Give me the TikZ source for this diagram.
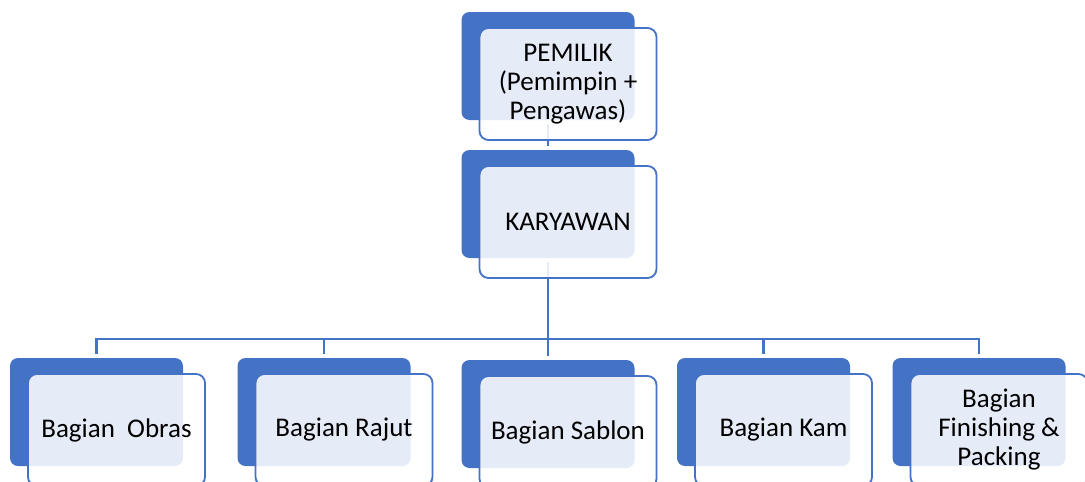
\documentclass[tikz,border=0pt]{standalone}
\usepackage{xcolor}
\usepackage{fontspec}
\setmainfont{Carlito}
\usepackage{tikz}
\usetikzlibrary{positioning}
\definecolor{orgblue}{HTML}{4472C4}

\begin{document}
\begin{tikzpicture}[x=1pt, y=-1pt,
  backbox/.style={fill=orgblue, rounded corners=8pt, minimum width=173pt, minimum height=108pt, inner sep=0pt, outer sep=0pt},
  frontbox/.style={draw=orgblue, line width=1.8pt, fill=white, fill opacity=0.87, text opacity=1, rounded corners=9pt, minimum width=177pt, minimum height=112pt, inner sep=2pt, align=center, font=\fontsize{27}{29}\selectfont},
  link/.style={draw=orgblue, line width=2.4pt, shorten <=4pt, shorten >=4pt}]
\clip (0,0) rectangle (1085,482);

% back boxes
\node[backbox] (pemilikbg) at (548,66) {};
\node[backbox] (karyawanbg) at (548,204) {};
\node[backbox] (obrasbg) at (96.5,412) {};
\node[backbox] (rajutbg) at (324,412) {};
\node[backbox] (sablonbg) at (548,414) {};
\node[backbox] (kambg) at (763.5,412) {};
\node[backbox] (finishingbg) at (979,412) {};

% connectors
\coordinate (bar) at (548,339);
\draw[link] (pemilikbg.south) -- (karyawanbg.north);
\draw[link] (karyawanbg.south) -- (sablonbg.north);
\foreach \n in {obras,rajut,kam,finishing}
  \draw[link, shorten <=0pt] (bar) -| (\n bg.north);

% front boxes
\node[frontbox] (pemilik) at ([shift={(20,18)}]pemilikbg.center) {PEMILIK\\(Pemimpin +\\Pengawas)};
\node[frontbox] (karyawan) at ([shift={(20,18)}]karyawanbg.center) {KARYAWAN};
\node[frontbox] (obras) at ([shift={(20,18)}]obrasbg.center) {Bagian~ Obras};
\node[frontbox] (rajut) at ([shift={(20,18)}]rajutbg.center) {Bagian Rajut};
\node[frontbox] (sablon) at ([shift={(20,18)}]sablonbg.center) {Bagian Sablon};
\node[frontbox] (kam) at ([shift={(20,18)}]kambg.center) {Bagian Kam};
\node[frontbox] (finishing) at ([shift={(20,18)}]finishingbg.center) {Bagian\\Finishing \&\\Packing};
\end{tikzpicture}
\end{document}
